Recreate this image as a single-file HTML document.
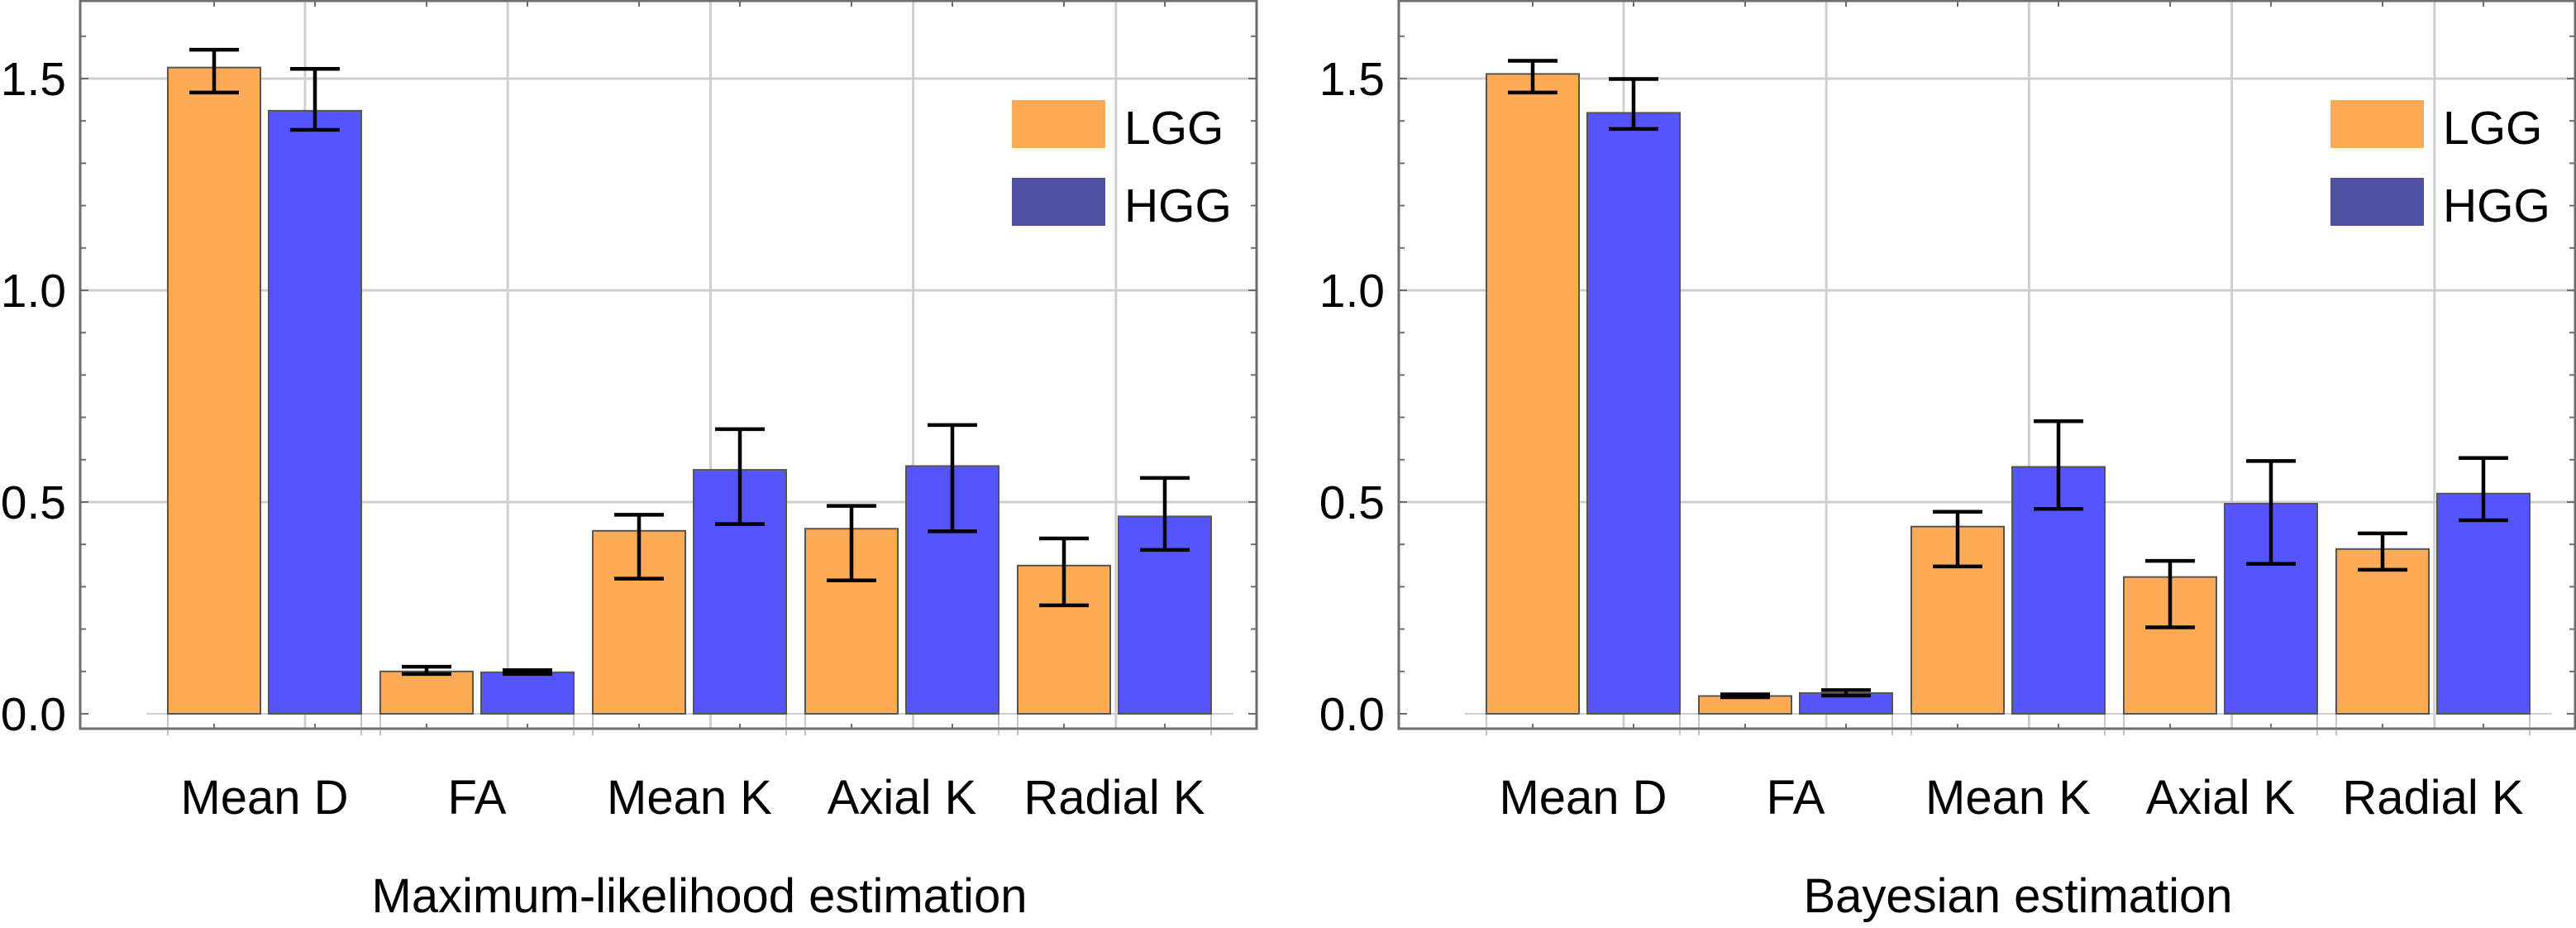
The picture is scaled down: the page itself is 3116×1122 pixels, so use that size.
<!DOCTYPE html>
<html><head><meta charset="utf-8"><style>
html,body{margin:0;padding:0;background:#fff;}
svg{display:block;font-family:"Liberation Sans",Arial,sans-serif;}
</style></head><body>
<svg id="chart" width="3116" height="1122" viewBox="0 0 3116 1122" xmlns="http://www.w3.org/2000/svg"></svg>
<script>
const categories = ["Mean D","FA","Mean K","Axial K","Radial K"];
const seriesNames = ["LGG","HGG"];
const mlLGG = [1.526,0.100,0.432,0.437,0.350];
const mlLGGLo = [1.467,0.094,0.319,0.315,0.256];
const mlLGGHi = [1.568,0.111,0.470,0.491,0.414];
const mlHGG = [1.424,0.098,0.576,0.585,0.466];
const mlHGGLo = [1.379,0.094,0.448,0.431,0.387];
const mlHGGHi = [1.523,0.103,0.672,0.682,0.557];
const bLGG = [1.511,0.042,0.442,0.323,0.389];
const bLGGLo = [1.467,0.039,0.348,0.204,0.340];
const bLGGHi = [1.542,0.046,0.477,0.361,0.426];
const bHGG = [1.419,0.049,0.583,0.496,0.520];
const bHGGLo = [1.381,0.043,0.484,0.354,0.457];
const bHGGHi = [1.499,0.056,0.691,0.597,0.604];
const yTicks = [0.0,0.5,1.0,1.5];
const titles = ["Maximum-likelihood estimation","Bayesian estimation"];

const NS="http://www.w3.org/2000/svg";
const svg=document.getElementById('chart');
function mk(tag,attrs,parent){const e=document.createElementNS(NS,tag);for(const k in attrs)e.setAttribute(k,attrs[k]);(parent||svg).appendChild(e);return e;}

const Y0=863, UNIT=512, FL=97, FR=1520, FT=1, FB=881;
function yS(v){return Y0-v*UNIT;}
function xGroup(i){return 203+i*257;}
const BW=112, GAP=10;
const colors=["#ffaa55","#5555ff"], legendColors=["#ffaa55","#5050a0"];

function panel(off, lg, lgLo, lgHi, hg, hgLo, hgHi, title, pname){
  const g=mk('g',{transform:`translate(${off},0)`});
  
  
  // gridlines
  for(let k=0;k<5;k++){const x=369+k*245.2;
    const l=mk('line',{x1:x,y1:FT,x2:x,y2:FB,stroke:'#cfcfcf','stroke-width':3},g);
    
    }
  yTicks.forEach(t=>{if(t===0)return;const y=yS(t);
    const l=mk('line',{x1:FL,y1:y,x2:FR,y2:y,stroke:'#cfcfcf','stroke-width':3},g);
    
    });
  // zero line
  const zl=mk('line',{x1:177,y1:Y0,x2:1492,y2:Y0,stroke:'#cfcfcf','stroke-width':2},g);
  
  
  // frame
  const fr=mk('rect',{x:FL,y:FT,width:FR-FL,height:FB-FT,fill:'none',stroke:'#6e6e6e','stroke-width':3},g);
  
  
  // y ticks minor/major
  for(let i=0;i<=16;i++){const v=i/10;const y=yS(v);const len=(i%5===0)?10:7;
    mk('line',{x1:FL,y1:y,x2:FL+len,y2:y,stroke:'#6e6e6e','stroke-width':2},g);
    mk('line',{x1:FR,y1:y,x2:FR-len,y2:y,stroke:'#6e6e6e','stroke-width':2},g);}
  yTicks.forEach(t=>{const tx=mk('text',{x:80,y:yS(t)+20,'font-size':57,'text-anchor':'end',fill:'#000'},g);
    tx.textContent=t.toFixed(1);
    
    });
  // bars
  const sets=[[lg,lgLo,lgHi],[hg,hgLo,hgHi]];
  categories.forEach((c,i)=>{
    const gx=xGroup(i);
    // group edge lines
    [gx, gx+2*BW+GAP].forEach(x=>mk('line',{x1:x,y1:Y0,x2:x,y2:FB+8,stroke:'#888','stroke-width':1},g));
    sets.forEach((s,j)=>{
      const x=gx+j*(BW+GAP), v=s[0][i];
      const r=mk('rect',{x:x,y:yS(v),width:BW,height:Y0-yS(v),fill:colors[j],stroke:'#555','stroke-width':2},g);
      
      
      const cx=x+BW/2;
      mk('line',{x1:cx,y1:FB,x2:cx,y2:FB-6,stroke:'#6e6e6e','stroke-width':2},g);
      mk('line',{x1:cx,y1:FT,x2:cx,y2:FT+7,stroke:'#6e6e6e','stroke-width':2},g);
      const eb=mk('g',{stroke:'#000','stroke-width':4.5},g);
      
      
      const lo=yS(s[1][i]), hi=yS(s[2][i]);
      mk('line',{x1:cx,y1:lo,x2:cx,y2:hi},eb);
      mk('line',{x1:cx-30,y1:lo,x2:cx+30,y2:lo},eb);
      mk('line',{x1:cx-30,y1:hi,x2:cx+30,y2:hi},eb);
    });
    const tl=mk('text',{x:gx+BW+GAP/2,y:984,'font-size':58,'text-anchor':'middle',fill:'#000'},g);
    tl.textContent=c;
    
    
  });
  // legend
  seriesNames.forEach((n,j)=>{
    const y0=121+j*94;
    const sw=mk('rect',{x:1224,y:y0,width:113,height:58,fill:legendColors[j]},g);
    
    
    const t=mk('text',{x:1360,y:y0+53,'font-size':57,fill:'#000'},g);
    t.textContent=n;
    
    
  });
  const tt=mk('text',{x:846,y:1103,'font-size':58,'text-anchor':'middle',fill:'#000'},g);
  tt.textContent=title;
  
  
}
panel(0, mlLGG,mlLGGLo,mlLGGHi, mlHGG,mlHGGLo,mlHGGHi, titles[0], 'ml-panel');
panel(1595, bLGG,bLGGLo,bLGGHi, bHGG,bHGGLo,bHGGHi, titles[1], 'bayes-panel');
</script>
</body></html>
